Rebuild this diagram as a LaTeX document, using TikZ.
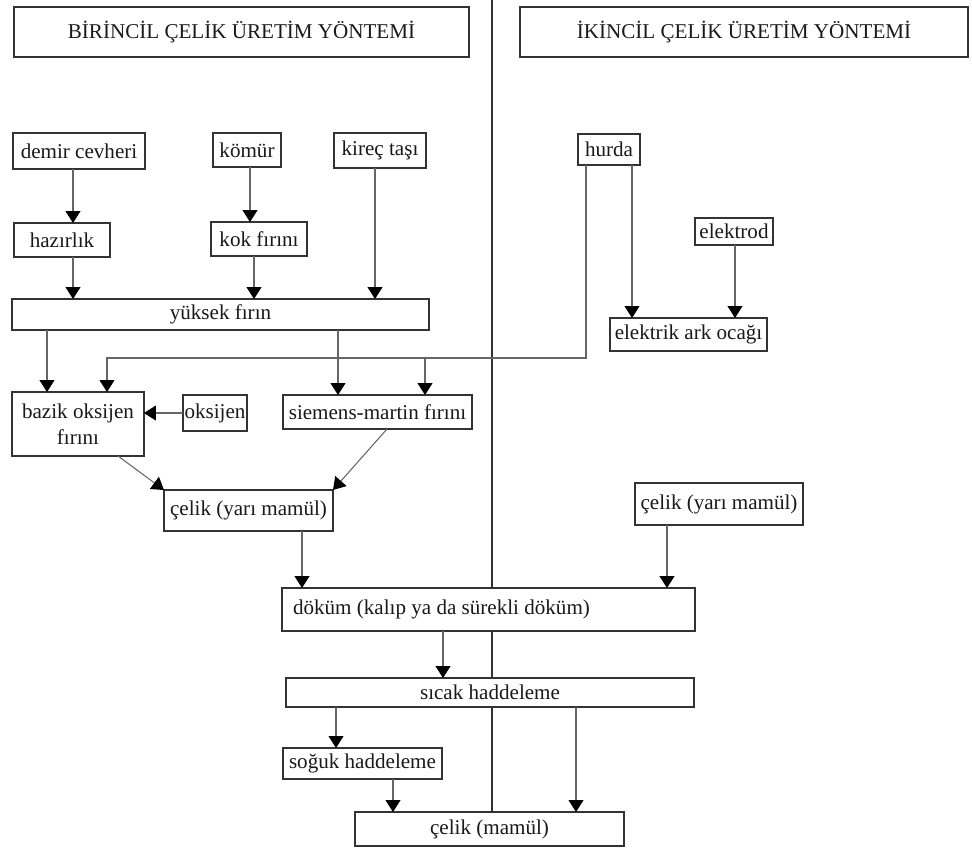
\documentclass[tikz,border=0pt]{standalone}
\usepackage{fontspec}
\setmainfont{Liberation Serif}
\usetikzlibrary{calc,arrows.meta,backgrounds}
\tikzset{
		>={Triangle[width=3mm,length=2.4mm,color=black]},
		kutu/.style={
			rectangle,
			draw=black!80, line width=0.9pt,
			fill=white,
			inner sep=0pt, outer sep=0pt,
			align=center,
			text=black!90,
			font=\fontsize{12}{14.5}\selectfont},
		baslik/.style={kutu, line width=1.1pt},
		akis/.style={draw=black!60, line width=0.6pt, ->},
		ayrac/.style={draw=black!80, line width=0.7pt},
	}
% vertical arrow from #1 down to #3, at offset #2 from the middle of #3
\newcommand{\vlink}[3]{%
	\coordinate (vlhedef) at ($(#3.north)+(#2,0)$);
	\draw[akis] (vlhedef |- #1.south) -- (vlhedef);}

\begin{document}
\begin{tikzpicture}[x=0.02cm, y=-0.02cm]
	\useasboundingbox (0,0) rectangle (972,848);

	% headers
	\node[baslik, minimum width=91mm, minimum height=10mm] (birincil) at (241.5,32) {BİRİNCİL ÇELİK ÜRETİM YÖNTEMİ};
	\node[baslik, minimum width=89.6mm, minimum height=10mm] (ikincil) at (744,32) {İKİNCİL ÇELİK ÜRETİM YÖNTEMİ};

	% primary route
	\node[kutu, minimum width=26.4mm, minimum height=7.2mm] (demir) at (79,151) {demir cevheri};
	\node[kutu, minimum width=13.6mm, minimum height=6.8mm] (komur) at (247,150) {kömür};
	\node[kutu, minimum width=18.4mm, minimum height=7mm] (kirec) at (380,150.5) {kireç taşı};
	\node[kutu, minimum width=19.2mm, minimum height=6.8mm] (hazirlik) at (62,240) {hazırlık};
	\node[kutu, minimum width=19.2mm, minimum height=6.8mm] (kok) at (259,239) {kok fırını};
	\node[kutu, minimum width=83.4mm, minimum height=6.2mm] (yuksek) at (220.5,314.5) {yüksek fırın};
	\node[kutu, minimum width=26.4mm, minimum height=12.8mm] (bazik) at (78,424) {bazik oksijen\\fırını};
	\node[kutu, minimum width=12.8mm, minimum height=7.2mm] (oksijen) at (215,413) {oksijen};
	\node[kutu, minimum width=37.8mm, minimum height=6.8mm] (siemens) at (377.5,412) {siemens-martin fırını};
	\node[kutu, minimum width=33.8mm, minimum height=8.2mm] (celikY) at (248.5,510.5) {çelik (yarı mamül)};

	% secondary route
	\node[kutu, minimum width=12.4mm, minimum height=6.2mm] (hurda) at (609,149.5) {hurda};
	\node[kutu, minimum width=15.6mm, minimum height=5.4mm] (elektrod) at (734,231.5) {elektrod};
	\node[kutu, minimum width=31.4mm, minimum height=6.6mm] (ark) at (688.5,334.5) {elektrik ark ocağı};
	\node[kutu, minimum width=33.6mm, minimum height=8.4mm] (celikYY) at (719,504) {çelik (yarı mamül)};

	% common part
	\node[kutu, minimum width=82.6mm, minimum height=8.6mm, inner xsep=2.2mm,
		text width=78.2mm, align=flush left] (dokum) at (488.5,609.5) {döküm (kalıp ya da sürekli döküm)};
	\node[kutu, minimum width=81.6mm, minimum height=5.8mm] (sicak) at (490,692.5) {sıcak haddeleme};
	\node[kutu, minimum width=31.8mm, minimum height=6.2mm] (soguk) at (362.5,763.5) {soğuk haddeleme};
	\node[kutu, minimum width=53.8mm, minimum height=6.8mm] (celikM) at (489.5,829) {çelik (mamül)};

	% connectors
	\vlink{demir}{11}{hazirlik}
	\vlink{hazirlik}{-147.5}{yuksek}
	\vlink{komur}{-9}{kok}
	\vlink{kok}{33.5}{yuksek}
	\vlink{kirec}{154.5}{yuksek}
	\vlink{yuksek}{-31}{bazik}
	\vlink{yuksek}{-39.5}{siemens}
	\vlink{hurda}{-56.5}{ark}
	\vlink{elektrod}{46.5}{ark}
	\draw[akis] ($(hurda.south)+(-23,0)$) |- ($(bazik.north)+(29,-34)$) -- ($(bazik.north)+(29,0)$);
	\draw[akis] ($(siemens.north)+(47.5,-37)$) -- ($(siemens.north)+(47.5,0)$);
	\draw[akis] (oksijen.west) -- (oksijen.west -| bazik.east);
	\draw[akis] ($(bazik.south)+(40,0)$) -- (celikY.north west);
	\draw[akis] ($(siemens.south)+(9.5,0)$) -- (celikY.north east);
	\vlink{celikY}{-186.5}{dokum}
	\vlink{celikYY}{178.5}{dokum}
	\vlink{dokum}{-47}{sicak}
	\vlink{sicak}{-26.5}{soguk}
	\vlink{sicak}{86.5}{celikM}
	\vlink{soguk}{-96.5}{celikM}

	% dividing line between the two routes
	\begin{scope}[on background layer]
		\coordinate (ust) at (492,0);
		\draw[ayrac] (ust) -- (ust |- celikM.north);
	\end{scope}
\end{tikzpicture}
\end{document}
